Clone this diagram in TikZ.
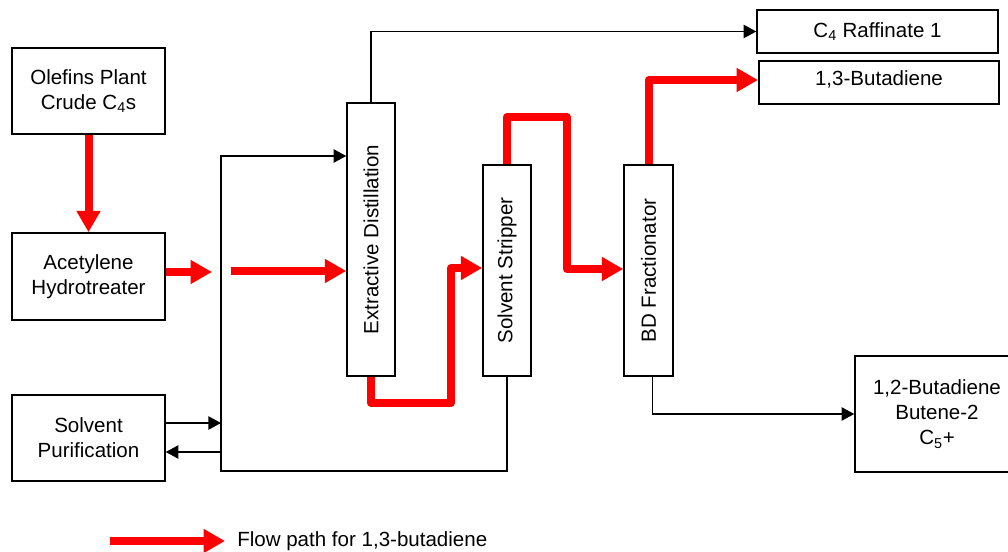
\documentclass[tikz,border=0pt]{standalone}
\usepackage{fontspec}
\setmainfont{Liberation Sans}
\usepackage{graphicx}
\usetikzlibrary{arrows.meta}
\begin{document}
\begin{tikzpicture}[x=0.75pt,y=-0.75pt,
  font=\fontsize{15.4}{18.8}\selectfont,
  box/.style={draw,line width=1.1pt,inner sep=0pt,align=center},
  flow/.style={line width=1.1pt,-{Triangle[length=9.5pt,width=10pt]}},
  redflow/.style={draw=red,line width=6pt,line join=round,-{Triangle[length=16pt,width=17pt]}}]
\useasboundingbox (0,0) rectangle (1008,552);
% boxes
\node[box,minimum width=114.75pt,minimum height=64.5pt] (olefins) at (88.5,91) {Olefins Plant\\Crude C\textsubscript{4}s};
\node[box,minimum width=114.75pt,minimum height=65.25pt] (acet) at (88.5,276.5) {Acetylene\\Hydrotreater};
\node[box,minimum width=114.75pt,minimum height=64.5pt] (solvp) at (88.5,438) {Solvent\\Purification};
\node[box,minimum width=36pt,minimum height=204.75pt] (ed) at (371,239.5) {\rotatebox{90}{Extractive Distillation}};
\node[box,minimum width=36pt,minimum height=158.25pt] (ss) at (507,270.5) {\rotatebox{90}{Solvent Stripper}};
\node[box,minimum width=36.75pt,minimum height=158.25pt] (bd) at (648.5,270.5) {\rotatebox{90}{BD Fractionator}};
\node[box,minimum width=180.75pt,minimum height=32.25pt] (raff) at (877.5,31.5) {C\textsubscript{4} Raffinate 1};
\node[box,minimum width=180pt,minimum height=32.25pt,text depth=6pt] (bdout) at (879,82.5) {1,3-Butadiene};
\node[box,minimum width=123pt,minimum height=87pt] (heavy) at (937,414) {1,2-Butadiene\\Butene-2\\C\textsubscript{5}+};
% coordinates
\coordinate (j1) at (212,272);
\coordinate (j2) at (231,271);
\coordinate (bt) at (221,156);
\coordinate (bb) at (221,471);
\coordinate (r1) at (451,403);
\coordinate (r2) at (451,268);
\coordinate (s1) at (567,117);
\coordinate (s2) at (567,269);
\coordinate (f1) at (758,80);
\coordinate (sp1) at (221,423);
\coordinate (sp2) at (221,452);
\coordinate (lg1) at (110,541);
\coordinate (lg2) at (225,541);
% red flow path
\draw[redflow] (olefins.south) -- (acet.north);
\draw[redflow] (acet.east |- j1) -- (j1);
\draw[redflow] (j2) -- (j2 -| ed.west);
\draw[redflow] (ed.south) |- (r1) -- (r2) -- (r2 -| ss.west);
\draw[redflow] (ss.north) |- (s1) -- (s2) -- (s2 -| bd.west);
\draw[redflow] (bd.north) |- (f1);
% black lines
\draw[flow] (ss.south) |- (bb) -- (bt) -- (bt -| ed.west);
\draw[flow] (solvp.east |- sp1) -- (sp1);
\draw[flow] (sp2) -- (solvp.east |- sp2);
\draw[flow] (ed.north) |- (raff.west);
\draw[flow] ([xshift=3pt]bd.south) |- (heavy.west);
% legend
\draw[redflow] (lg1) -- (lg2);
\node[anchor=west,inner sep=0pt] (legend) at (237,541) {Flow path for 1,3-butadiene};
\end{tikzpicture}
\end{document}
